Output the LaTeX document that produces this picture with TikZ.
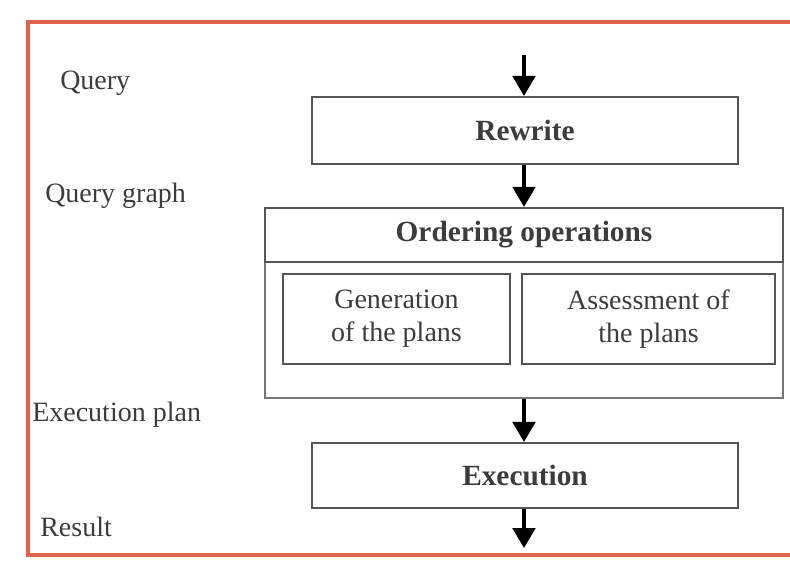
\documentclass[tikz,border=0pt]{standalone}
\usepackage{fontspec}
\setmainfont{Liberation Serif}
\usetikzlibrary{arrows.meta}
\definecolor{framered}{RGB}{222,98,76}
\definecolor{boxgray}{RGB}{85,85,85}
\definecolor{txtgray}{RGB}{60,60,60}
\tikzset{
    stagebox/.style={draw=boxgray, line width=1.6pt, inner sep=0pt, text=txtgray,
        font=\fontsize{22}{26}\selectfont\bfseries},
    subbox/.style={draw=boxgray, line width=1.6pt, inner sep=0pt, text=txtgray, align=center,
        font=\fontsize{21}{25}\selectfont},
    flowlabel/.style={anchor=west, inner sep=0pt, text=txtgray, font=\fontsize{21}{25}\selectfont},
    flow/.style={line width=2.4pt, -{Triangle[width=17pt,length=15pt]}}
}
\begin{document}
\begin{tikzpicture}[x=0.75pt, y=-0.75pt]
                \useasboundingbox (0,0) rectangle (790,563);
                \begin{scope}
                    \clip (0,0) rectangle (790,563);
                    \draw[framered, line width=3pt] (28,22) rectangle (805,555);
                \end{scope}
                \coordinate (in) at (524,55);
                \coordinate (out) at (524,548);
                \node[stagebox, minimum width=319.5pt, minimum height=50.25pt] (rewrite) at (525,130.5) {Rewrite};
                \node[draw=boxgray!80, line width=1.6pt, minimum width=388.5pt, minimum height=142.5pt] (ops) at (524,303) {};
                \node[stagebox, minimum width=388.5pt, minimum height=40.5pt] (opshead) at (524,235) {Ordering operations};
                \node[subbox, minimum width=170.25pt, minimum height=67.5pt] (gen) at (396.5,319) {Generation\\of the plans};
                \node[subbox, minimum width=189.75pt, minimum height=67.5pt] (assess) at (648.5,319) {Assessment of\\the plans};
                \node[stagebox, minimum width=319.5pt, minimum height=48.75pt] (exec) at (525,475.5) {Execution};
                \draw[flow] (in) -- (rewrite.north -| in);
                \draw[flow] (rewrite.south -| in) -- (ops.north -| in);
                \draw[flow] (ops.south -| in) -- (exec.north -| in);
                \draw[flow] (exec.south -| in) -- (out);
                \node[flowlabel] (query) at (60,83) {Query};
                \node[flowlabel] (qgraph) at (45,196) {Query graph};
                \node[flowlabel] (eplan) at (32,415) {Execution plan};
                \node[flowlabel] (result) at (40,527) {Result};
            \end{tikzpicture}
\end{document}
